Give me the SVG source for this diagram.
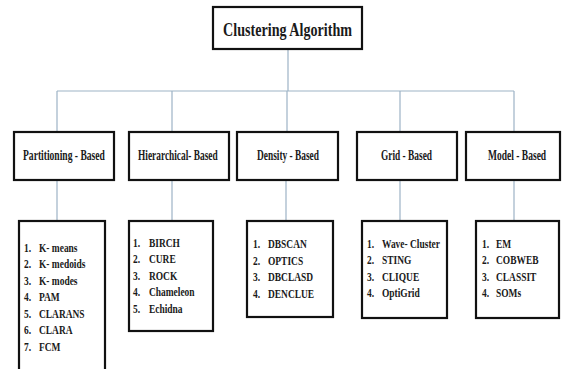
<svg xmlns="http://www.w3.org/2000/svg" width="562" height="369" viewBox="0 0 562 369">
<style>
.bx{fill:#fff;stroke:#111;stroke-width:2.2}
.cn{fill:none;stroke:#9db3c6;stroke-width:1.2}
.t{font-family:"Liberation Serif","Times New Roman",serif;font-weight:bold;fill:#1a1a1a}
.ti{font-size:19px}
.ca{font-size:14px}
.li{font-size:13.5px}
</style>
<rect width="562" height="369" fill="#fff"/>
<g id="connectors">
<path class="cn" d="M288 49V91M57 91H514M57 91V132M172 91V132M287 91V132M400 91V132M514 91V132"/>
<path class="cn" d="M57 180V221M172 180V221M286 180V221M400 180V221M514 180V221"/>
</g>
<g id="root">
<rect class="bx" x="213" y="7" width="149" height="42"/>
<text class="t ti" transform="translate(223 36) scale(0.744 1)">Clustering Algorithm</text>
</g>
<g id="partitioning">
<rect class="bx" x="14" y="132" width="100" height="48"/>
<text class="t ca" transform="translate(23 160) scale(0.684 1)">Partitioning - Based</text>
</g>
<g id="hierarchical">
<rect class="bx" x="129" y="132" width="100" height="48"/>
<text class="t ca" transform="translate(138 160) scale(0.67 1)">Hierarchical- Based</text>
</g>
<g id="density">
<rect class="bx" x="237" y="132" width="101" height="48"/>
<text class="t ca" transform="translate(257 160) scale(0.67 1)">Density - Based</text>
</g>
<g id="grid">
<rect class="bx" x="357" y="132" width="100" height="48"/>
<text class="t ca" transform="translate(381 160) scale(0.67 1)">Grid - Based</text>
</g>
<g id="model">
<rect class="bx" x="466" y="132" width="94" height="48"/>
<text class="t ca" transform="translate(488 160) scale(0.68 1)">Model - Based</text>
</g>
<g id="list-partitioning">
<rect class="bx" x="19" y="221" width="86" height="160"/>
<g class="t li" transform="translate(24 0) scale(0.7 1)">
<text x="0" y="252">1.</text><text x="21.4" y="252">K- means</text>
<text x="0" y="268.5">2.</text><text x="21.4" y="268.5">K- medoids</text>
<text x="0" y="285">3.</text><text x="21.4" y="285">K- modes</text>
<text x="0" y="301.5">4.</text><text x="21.4" y="301.5">PAM</text>
<text x="0" y="318">5.</text><text x="21.4" y="318">CLARANS</text>
<text x="0" y="334.5">6.</text><text x="21.4" y="334.5">CLARA</text>
<text x="0" y="351">7.</text><text x="21.4" y="351">FCM</text>
</g>
</g>
<g id="list-hierarchical">
<rect class="bx" x="129" y="221" width="84" height="110"/>
<g class="t li" transform="translate(133 0) scale(0.7 1)">
<text x="0" y="247">1.</text><text x="22.8" y="247">BIRCH</text>
<text x="0" y="263.5">2.</text><text x="22.8" y="263.5">CURE</text>
<text x="0" y="280">3.</text><text x="22.8" y="280">ROCK</text>
<text x="0" y="296.5">4.</text><text x="22.8" y="296.5">Chameleon</text>
<text x="0" y="313">5.</text><text x="22.8" y="313">Echidna</text>
</g>
</g>
<g id="list-density">
<rect class="bx" x="247" y="221" width="86" height="96"/>
<g class="t li" transform="translate(253 0) scale(0.7 1)">
<text x="0" y="248">1.</text><text x="21.4" y="248">DBSCAN</text>
<text x="0" y="264.7">2.</text><text x="21.4" y="264.7">OPTICS</text>
<text x="0" y="281.3">3.</text><text x="21.4" y="281.3">DBCLASD</text>
<text x="0" y="298">4.</text><text x="21.4" y="298">DENCLUE</text>
</g>
</g>
<g id="list-grid">
<rect class="bx" x="362" y="221" width="85" height="97"/>
<g class="t li" transform="translate(367 0) scale(0.7 1)">
<text x="0" y="248">1.</text><text x="21.4" y="248">Wave- Cluster</text>
<text x="0" y="264.5">2.</text><text x="21.4" y="264.5">STING</text>
<text x="0" y="281">3.</text><text x="21.4" y="281">CLIQUE</text>
<text x="0" y="297.5">4.</text><text x="21.4" y="297.5">OptiGrid</text>
</g>
</g>
<g id="list-model">
<rect class="bx" x="476" y="221" width="83" height="97"/>
<g class="t li" transform="translate(482 0) scale(0.7 1)">
<text x="0" y="248">1.</text><text x="20" y="248">EM</text>
<text x="0" y="264.5">2.</text><text x="20" y="264.5">COBWEB</text>
<text x="0" y="281">3.</text><text x="20" y="281">CLASSIT</text>
<text x="0" y="297.5">4.</text><text x="20" y="297.5">SOMs</text>
</g>
</g>
</svg>
